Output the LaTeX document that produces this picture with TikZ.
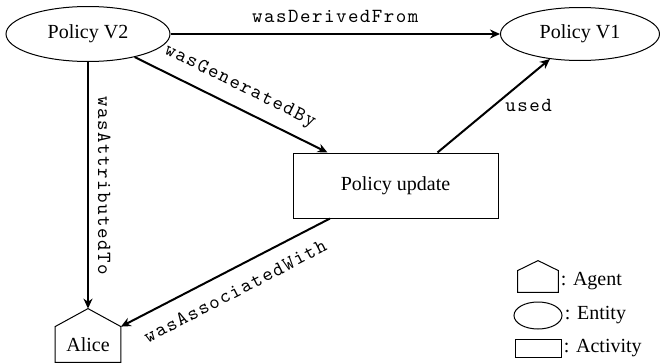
\documentclass[tikz,border=0pt]{standalone}
\usepackage{fontspec}
\setmainfont{Liberation Serif}
\setmonofont[LetterSpace=7.5]{Latin Modern Mono}
\usetikzlibrary{positioning,shapes.geometric,arrows.meta}

\tikzset{
  entity/.style={ellipse,draw,line width=0.5pt,inner sep=0pt},
  activity/.style={rectangle,draw,line width=0.5pt,inner sep=0pt},
  agent/.style={rectangle,inner sep=0pt},
  house/.style={line width=0.5pt},
  rel/.style={line width=1pt,-{Stealth[length=5pt,width=4.5pt]}},
  rellabel/.style={font=\ttfamily},
  legtext/.style={anchor=west,inner sep=1pt}
}

\begin{document}
\begin{tikzpicture}[x=0.5pt,y=-0.5pt]
	\useasboundingbox (0,0) rectangle (660,364);
	% entities, activity, agent
	\node[entity,minimum width=82pt,minimum height=27.5pt] (v2) at (88,34) {Policy V2};
	\node[entity,minimum width=79.5pt,minimum height=26.5pt] (v1) at (580,34) {Policy V1};
	\node[activity,minimum width=102.5pt,minimum height=32.5pt] (upd) at (395.5,185.5) {Policy update};
	\node[agent,minimum width=32.5pt,minimum height=17.5pt] (alice) at (88,344.5) {Alice};
	\coordinate (aliceTop) at ([yshift=9pt]alice.north);
	\draw[house] (alice.north west) -- (aliceTop) -- (alice.north east) -- (alice.south east) -- (alice.south west) -- cycle;
	
	% relations
	\draw[rel] (v2) -- node[rellabel,above=2pt] {wasDerivedFrom} (v1);
	\draw[rel] (v2) -- node[rellabel,sloped,above=2pt] {wasGeneratedBy} ([xshift=-34pt]upd.north);
	\draw[rel] ([xshift=21pt]upd.north) -- node[rellabel,right=2pt] {used} (v1);
	\draw[rel] (v2) -- node[rellabel,xshift=1.2pt,rotate=-90,anchor=south] {wasAttributedTo} (aliceTop);
	\draw[rel] ([xshift=-32.75pt]upd.south) -- node[rellabel,sloped,below=3.5pt] {wasAssociatedWith} (alice.north east);
	
	% legend
	\node[agent,minimum width=20pt,minimum height=10.5pt] (legAgent) at (538,281.5) {};
	\draw[house] (legAgent.north west) -- ([yshift=5pt]legAgent.north) -- (legAgent.north east) -- (legAgent.south east) -- (legAgent.south west) -- cycle;
	\node[legtext] (legAgentTxt) at (legAgent.east) {: Agent};
	\node[entity,minimum width=24pt,minimum height=13.5pt] (legEntity) at (538,315.5) {};
	\node[legtext] (legEntityTxt) at (legEntity.east) {: Entity};
	\node[activity,minimum width=23pt,minimum height=9pt] (legActivity) at (538,348) {};
	\node[legtext] (legActivityTxt) at (legActivity.east) {: Activity};
\end{tikzpicture}
\end{document}
